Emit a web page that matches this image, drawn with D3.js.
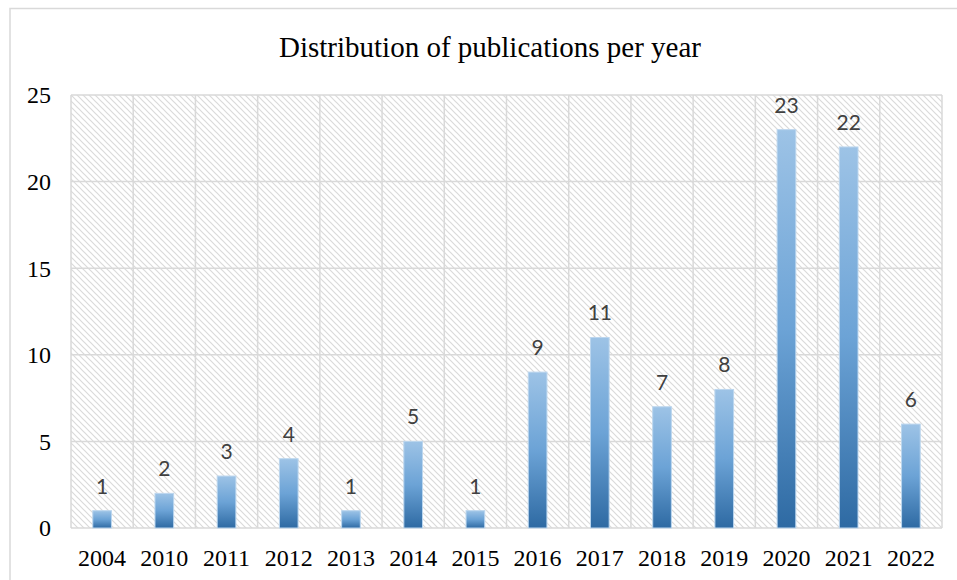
<!DOCTYPE html>
<html>
<head>
<meta charset="utf-8">
<script src="https://cdn.jsdelivr.net/npm/d3@7"></script>
<style>
  html, body { margin: 0; padding: 0; background: #fff; }
  svg { display: block; }
</style>
</head>
<body>
<script>
// Publications per year
const years = ["2004","2010","2011","2012","2013","2014","2015","2016","2017","2018","2019","2020","2021","2022"];
const counts = [1, 2, 3, 4, 1, 5, 1, 9, 11, 7, 8, 23, 22, 6];
const yTicks = [0, 5, 10, 15, 20, 25];
const title = "Distribution of publications per year";

const W = 957, H = 580;
const margin = { left: 71, right: 15, top: 95, bottom: 52 };

const svg = d3.select("body").append("svg").attr("width", W).attr("height", H);
const defs = svg.append("defs");

// diagonal hatch for the plot background
const pat = defs.append("pattern")
  .attr("id", "hatch").attr("patternUnits", "userSpaceOnUse")
  .attr("width", 6).attr("height", 6);
pat.append("path")
  .attr("d", "M0,0 L6,6 M-1,5 L1,7 M5,-1 L7,1")
  .attr("stroke", "#dadada").attr("stroke-width", 1.2).attr("fill", "none");

// vertical gradient for the bars
const grad = defs.append("linearGradient")
  .attr("id", "barGrad").attr("x1", 0).attr("y1", 0).attr("x2", 0).attr("y2", 1);
grad.append("stop").attr("offset", "0%").attr("stop-color", "#9dc3e6");
grad.append("stop").attr("offset", "50%").attr("stop-color", "#6ca3d6");
grad.append("stop").attr("offset", "100%").attr("stop-color", "#2e6aa3");

// outer chart frame
svg.append("rect")
  .attr("x", 10).attr("y", 8.5).attr("width", W + 20).attr("height", H + 20)
  .attr("fill", "none").attr("stroke", "#d9d9d9").attr("stroke-width", 1.5);

const x = d3.scaleBand().domain(years).range([margin.left, W - margin.right]).padding(0);
const y = d3.scaleLinear().domain([0, 25]).range([H - margin.bottom, margin.top]);

const plotW = (W - margin.right) - margin.left;
const plotH = (H - margin.bottom) - margin.top;

svg.append("rect")
  .attr("x", margin.left).attr("y", margin.top)
  .attr("width", plotW).attr("height", plotH)
  .attr("fill", "url(#hatch)");

// gridlines
const grid = svg.append("g").attr("stroke", "#d9d9d9").attr("stroke-width", 1.5);
grid.selectAll("line.h").data(yTicks).join("line")
  .attr("x1", margin.left).attr("x2", W - margin.right)
  .attr("y1", d => y(d)).attr("y2", d => y(d));
const edges = years.map(d => x(d)).concat([W - margin.right]);
grid.selectAll("line.v").data(edges).join("line")
  .attr("y1", margin.top).attr("y2", H - margin.bottom)
  .attr("x1", d => d).attr("x2", d => d);

// bars
const bw = x.bandwidth() * 0.3;
svg.append("g").selectAll("rect").data(years).join("rect")
  .attr("x", (d) => x(d) + (x.bandwidth() - bw) / 2)
  .attr("y", (d, i) => y(counts[i]))
  .attr("width", bw)
  .attr("height", (d, i) => y(0) - y(counts[i]))
  .attr("fill", "url(#barGrad)")
  .attr("stroke", "#bcd6ee").attr("stroke-width", 1);

// value labels
svg.append("g").selectAll("text").data(years).join("text")
  .attr("x", d => x(d) + x.bandwidth() / 2)
  .attr("y", (d, i) => y(counts[i]) - 17)
  .attr("text-anchor", "middle")
  .attr("font-family", "Lato, 'Open Sans', sans-serif")
  .attr("font-size", 21)
  .attr("fill", "#404040")
  .text((d, i) => counts[i]);

// axes
const serif = "'Liberation Serif', 'Times New Roman', serif";
const yAxis = svg.append("g")
  .attr("transform", `translate(${margin.left - 20},0)`)
  .call(d3.axisLeft(y).tickValues(yTicks).tickSize(0).tickPadding(0));
yAxis.select(".domain").remove();
yAxis.selectAll("text")
  .attr("font-family", serif).attr("font-size", 24).attr("fill", "#000")
  .attr("dy", "0.33em");

const xAxis = svg.append("g")
  .attr("transform", `translate(0,${H - margin.bottom})`)
  .call(d3.axisBottom(x).tickSize(0).tickPadding(0));
xAxis.select(".domain").remove();
xAxis.selectAll("text")
  .attr("font-family", serif).attr("font-size", 24).attr("fill", "#000")
  .attr("y", 38).attr("dy", 0);

// title
svg.append("text")
  .attr("x", 490).attr("y", 57)
  .attr("text-anchor", "middle")
  .attr("font-family", serif).attr("font-size", 29).attr("fill", "#000")
  .text(title);
</script>
</body>
</html>
